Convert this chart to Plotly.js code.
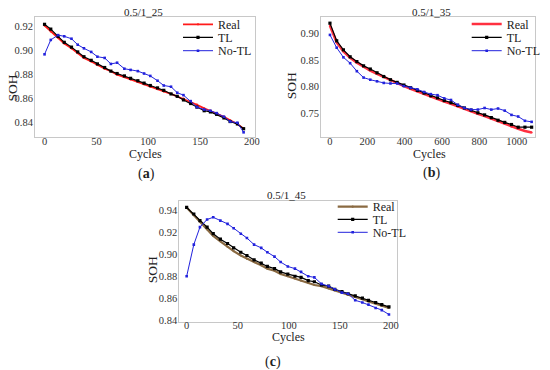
<!DOCTYPE html>
<html>
<head>
<meta charset="utf-8">
<script src="https://cdn.plot.ly/plotly-3.0.1.min.js"></script>
<style>html,body{margin:0;padding:0;background:#fff;}#chart{width:550px;height:370px;}</style>
</head>
<body>
<div id="chart"></div>
<script>
// ---- Panel (a): 0.5/1_25 ----
const cyclesA = [0,6,13,19,26,32,38,45,51,58,64,70,77,83,90,96,102,109,115,122,128,134,141,147,154,160,166,173,179,186,192];
const realA = [0.921,0.916,0.911,0.906,0.902,0.898,0.894,0.891,0.888,0.885,0.883,0.880,0.878,0.876,0.874,0.872,0.870,0.868,0.866,0.864,0.862,0.860,0.857,0.855,0.852,0.850,0.848,0.845,0.842,0.839,0.835];
const tlA = [0.922,0.918,0.912,0.907,0.903,0.899,0.895,0.892,0.889,0.886,0.883,0.881,0.879,0.877,0.875,0.873,0.871,0.869,0.867,0.864,0.862,0.859,0.856,0.853,0.850,0.849,0.847,0.844,0.841,0.839,0.835];
const notlA = [0.897,0.909,0.913,0.912,0.910,0.905,0.902,0.899,0.895,0.894,0.889,0.890,0.885,0.884,0.883,0.881,0.879,0.875,0.871,0.870,0.865,0.863,0.858,0.853,0.851,0.850,0.848,0.845,0.841,0.840,0.832];

// ---- Panel (b): 0.5/1_35 ----
const cyclesB = [0,36,72,108,144,180,216,252,288,324,360,396,432,468,504,540,576,612,648,684,720,756,792,828,864,900,936,972,1008,1044,1080];
const realB = [0.914,0.883,0.866,0.854,0.845,0.837,0.830,0.824,0.818,0.812,0.806,0.801,0.796,0.791,0.786,0.781,0.777,0.772,0.768,0.763,0.759,0.754,0.749,0.745,0.740,0.735,0.730,0.725,0.721,0.717,0.714];
const tlB = [0.919,0.886,0.869,0.856,0.847,0.839,0.833,0.826,0.819,0.813,0.808,0.803,0.798,0.793,0.788,0.783,0.779,0.774,0.770,0.765,0.760,0.756,0.751,0.747,0.742,0.737,0.733,0.729,0.724,0.724,0.724];
const notlB = [0.897,0.873,0.855,0.844,0.829,0.817,0.813,0.810,0.807,0.806,0.806,0.801,0.798,0.795,0.790,0.786,0.784,0.778,0.775,0.766,0.760,0.757,0.757,0.760,0.757,0.759,0.755,0.747,0.744,0.736,0.734];

// ---- Panel (c): 0.5/1_45 ----
const cyclesC = [0,7,13,20,26,33,40,46,53,59,66,73,79,86,92,99,106,112,119,125,132,139,145,152,158,165,172,178,185,191,198];
const realC = [0.943,0.936,0.930,0.923,0.917,0.912,0.907,0.903,0.899,0.896,0.893,0.890,0.887,0.885,0.882,0.880,0.878,0.876,0.874,0.872,0.871,0.869,0.867,0.865,0.863,0.861,0.859,0.857,0.855,0.853,0.851];
const tlC = [0.943,0.937,0.931,0.925,0.919,0.914,0.910,0.906,0.902,0.899,0.895,0.892,0.889,0.887,0.884,0.882,0.880,0.879,0.876,0.875,0.872,0.871,0.868,0.866,0.864,0.862,0.860,0.858,0.856,0.854,0.852];
const notlC = [0.880,0.909,0.925,0.932,0.934,0.931,0.928,0.924,0.919,0.915,0.909,0.906,0.902,0.898,0.893,0.889,0.887,0.884,0.880,0.879,0.873,0.871,0.868,0.865,0.864,0.858,0.856,0.854,0.851,0.849,0.845];

const seriesNames = ['Real','TL','No-TL'];
const panelTitles = ['0.5/1_25','0.5/1_35','0.5/1_45'];
const panelLabels = ['(<b>a</b>)','(<b>b</b>)','(<b>c</b>)'];
const axisTitleX = 'Cycles';
const axisTitleY = 'SOH';

const FONT = 'Times New Roman';
const RED = '#ff1a1a', RED_B = '#ff3040', BLACK = '#000000', BLUE = '#2222dd', BROWN = '#8a6a42';

function realTrace(x, y, xa, ya, color, width, leg) {
  return {x: x, y: y, xaxis: xa, yaxis: ya, type: 'scatter', mode: 'lines+markers', name: seriesNames[0],
    line: {color: color, width: width}, marker: {color: color, size: 2.2, symbol: 'circle'}, legend: leg};
}
function tlTrace(x, y, xa, ya, leg) {
  return {x: x, y: y, xaxis: xa, yaxis: ya, type: 'scatter', mode: 'lines+markers', name: seriesNames[1],
    line: {color: BLACK, width: 1.2}, marker: {color: BLACK, size: 3.2, symbol: 'square'}, legend: leg};
}
function notlTrace(x, y, xa, ya, leg) {
  return {x: x, y: y, xaxis: xa, yaxis: ya, type: 'scatter', mode: 'lines+markers', name: seriesNames[2],
    line: {color: BLUE, width: 1}, marker: {color: BLUE, size: 2.6, symbol: 'square'}, legend: leg};
}

const data = [
  realTrace(cyclesA, realA, 'x', 'y', RED, 1.8, 'legend'),
  tlTrace(cyclesA, tlA, 'x', 'y', 'legend2'),
  notlTrace(cyclesA, notlA, 'x', 'y', 'legend3'),
  realTrace(cyclesB, realB, 'x2', 'y2', RED_B, 2.6, 'legend4'),
  tlTrace(cyclesB, tlB, 'x2', 'y2', 'legend5'),
  notlTrace(cyclesB, notlB, 'x2', 'y2', 'legend6'),
  realTrace(cyclesC, realC, 'x3', 'y3', BROWN, 2.2, 'legend7'),
  tlTrace(cyclesC, tlC, 'x3', 'y3', 'legend8'),
  notlTrace(cyclesC, notlC, 'x3', 'y3', 'legend9')
];

const W = 550, H = 370;
const px = v => v / W;
const py = v => 1 - v / H;

function axisBase(extra) {
  return Object.assign({
    showline: true, mirror: true, linecolor: '#c8c8c8', linewidth: 1,
    showgrid: false, zeroline: false, ticks: '', ticklen: 0,
    tickfont: {family: FONT, size: 10.5, color: '#333'}, fixedrange: true
  }, extra);
}

function legendAt(textX, rowY) {
  return {x: px(textX - 40), y: py(rowY), xanchor: 'left', yanchor: 'middle',
    bgcolor: 'rgba(0,0,0,0)', borderwidth: 0, font: {family: FONT, size: 12, color: '#222'}, itemwidth: 30};
}

const layout = {
  width: W, height: H,
  margin: {l: 0, r: 0, t: 0, b: 0},
  paper_bgcolor: '#fff', plot_bgcolor: '#fff',
  font: {family: FONT},
  showlegend: true,
  xaxis: axisBase({domain: [px(35), px(255)], range: [-9.2, 203], tickvals: [0,50,100,150,200], anchor: 'y', ticklabelstandoff: -6}),
  yaxis: axisBase({domain: [py(137), py(17)], range: [0.8281, 0.9281], tickvals: [0.84,0.86,0.88,0.90,0.92], tickformat: '.2f', anchor: 'x', ticklabelstandoff: -1}),
  xaxis2: axisBase({domain: [px(321), px(535)], range: [-48, 1098], tickvals: [0,200,400,600,800,1000], anchor: 'y2', ticklabelstandoff: -6}),
  yaxis2: axisBase({domain: [py(137), py(17)], range: [0.7056, 0.9306], tickvals: [0.75,0.80,0.85,0.90], tickformat: '.2f', anchor: 'x2', ticklabelstandoff: -1}),
  xaxis3: axisBase({domain: [px(179.3), px(396.7)], range: [-7.2, 205.6], tickvals: [0,50,100,150,200], anchor: 'y3', ticklabelstandoff: -6}),
  yaxis3: axisBase({domain: [py(321.7), py(200.7)], range: [0.8384, 0.9492], tickvals: [0.84,0.86,0.88,0.90,0.92,0.94], tickformat: '.2f', anchor: 'x3', ticklabelstandoff: -1}),
  legend: legendAt(218, 24.3), legend2: legendAt(218, 37.3), legend3: legendAt(218, 50.7),
  legend4: legendAt(506.7, 24), legend5: legendAt(506.7, 37.3), legend6: legendAt(506.7, 50.7),
  legend7: legendAt(372.7, 206.7), legend8: legendAt(372.7, 219.3), legend9: legendAt(372.7, 232.3),
  annotations: []
};

function note(text, x, y, size, angle) {
  layout.annotations.push({text: text, x: px(x), y: py(y), xref: 'paper', yref: 'paper',
    xanchor: 'center', yanchor: 'middle', showarrow: false, textangle: angle || 0,
    font: {family: FONT, size: size, color: '#222'}});
}
// subplot titles
note(panelTitles[0], 143, 11.5, 11);
note(panelTitles[1], 431, 11.5, 11);
note(panelTitles[2], 286.7, 195, 11);
// axis titles
note(axisTitleX, 145, 154, 12);
note(axisTitleX, 429, 154, 12);
note(axisTitleX, 288, 337, 12);
note(axisTitleY, 11.5, 88, 13.5, -90);
note(axisTitleY, 291.2, 86, 13.5, -90);
note(axisTitleY, 152.2, 270, 13.5, -90);
// panel labels
note(panelLabels[0], 146.7, 174, 14);
note(panelLabels[1], 431, 172.7, 14);
note(panelLabels[2], 273.3, 362, 14);

Plotly.newPlot('chart', data, layout, {displayModeBar: false, staticPlot: true});
</script>
</body>
</html>
